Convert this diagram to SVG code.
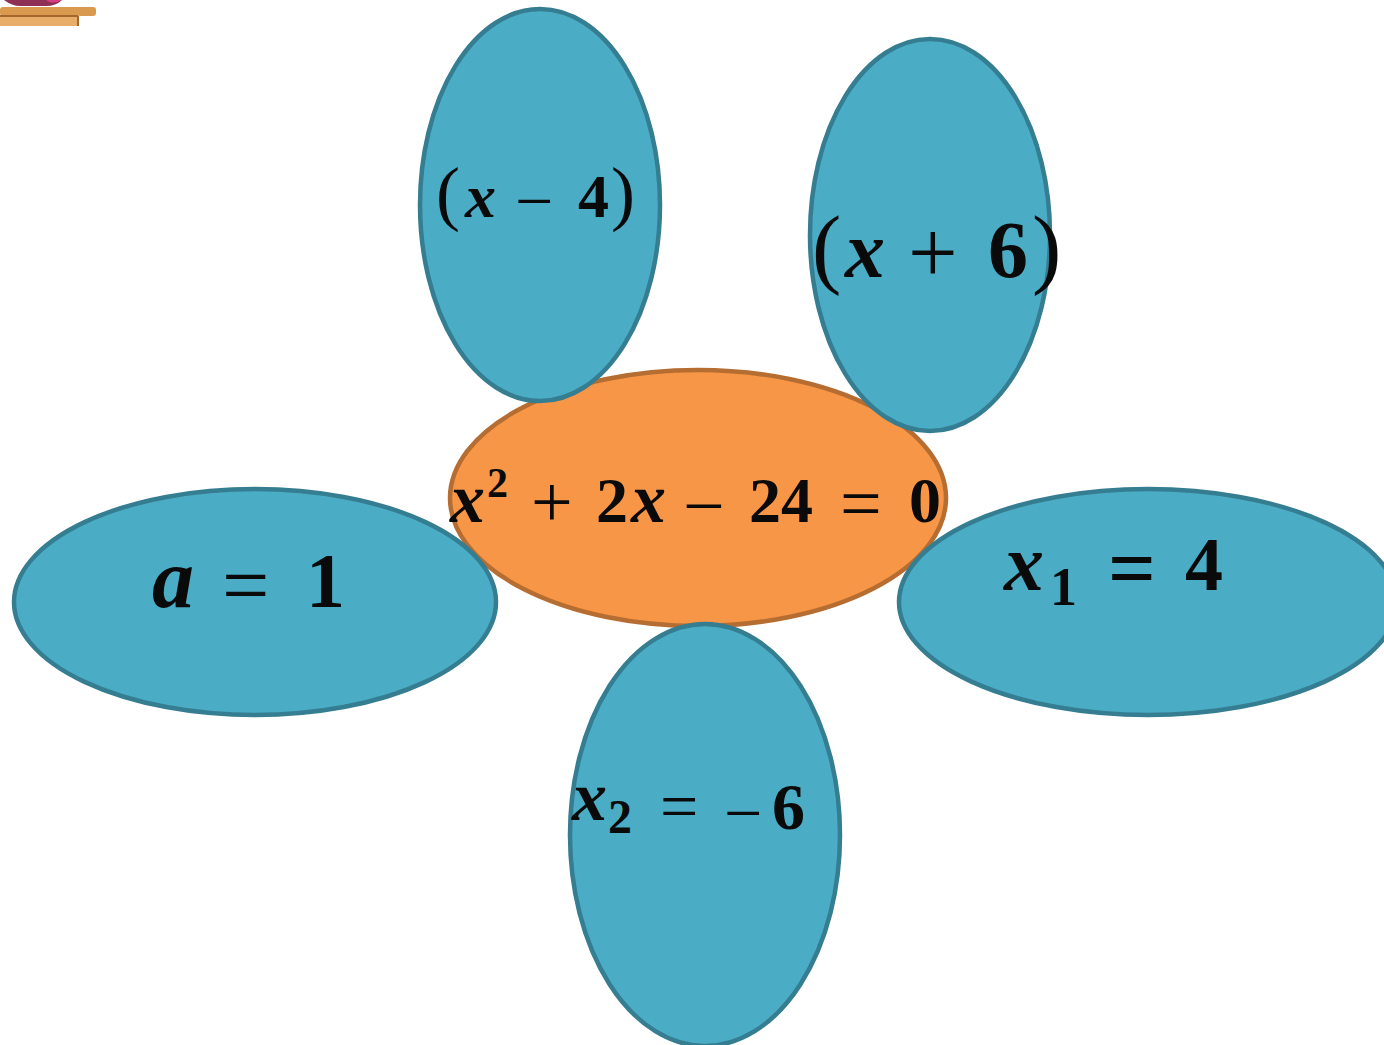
<svg xmlns="http://www.w3.org/2000/svg" width="1384" height="1045" viewBox="0 0 1384 1045">
<style>
.b{fill:#4bacc6;stroke:#357d91;stroke-width:4.5}
.o{fill:#f79646;stroke:#b66d31;stroke-width:4.5}
text{font-family:"Liberation Serif","DejaVu Serif",serif;font-weight:bold;fill:#0a0a0a}
.i{font-style:italic}
.p{font-weight:normal}
</style>
<rect width="1384" height="1045" fill="#fff"/>
<g id="decor"><path d="M4 0Q12 6 20 6H46Q56 6 62 0Z" fill="#8e2f55"/><path d="M46 0Q52 5 62 0Z" fill="#d63c80"/><rect x="0" y="7" width="96" height="9" rx="3" fill="#d99a50"/><rect x="0" y="15" width="79" height="11" fill="#e8ad68"/><rect x="0" y="15" width="78" height="2" fill="#a5662c"/><rect x="77" y="16" width="2" height="10" fill="#a5662c"/></g>
<g id="connectors"></g>
<g id="n-center"><ellipse class="o" cx="698" cy="498" rx="248" ry="128"/><text y="522" font-size="64"><tspan class="i" x="450" font-size="70">x</tspan><tspan x="487" y="497" font-size="42">2</tspan><tspan class="p" x="531" y="527" font-size="74">+</tspan><tspan x="596" y="522" font-size="64">2</tspan><tspan class="i" x="631" font-size="70">x</tspan><tspan class="p" x="683" y="531" font-size="74">−</tspan><tspan x="749" y="522" font-size="64">24</tspan><tspan class="p" x="840" y="528" font-size="74">=</tspan><tspan x="909" y="522" font-size="64">0</tspan></text></g>
<g id="n-top-left"><ellipse class="b" cx="540" cy="205" rx="120" ry="196"/><text y="217" font-size="60"><tspan class="p" x="436" font-size="72">(</tspan><tspan class="i" x="465" font-size="62">x</tspan><tspan class="p" x="515" y="224" font-size="68">−</tspan><tspan x="578" y="217" font-size="62">4</tspan><tspan class="p" x="611" font-size="72">)</tspan></text></g>
<g id="n-top-right"><ellipse class="b" cx="930" cy="235" rx="120" ry="196"/><text y="277" font-size="80"><tspan class="p" x="812" font-size="88">(</tspan><tspan class="i" x="845" font-size="80">x</tspan><tspan class="p" x="908" y="282" font-size="88">+</tspan><tspan x="988" y="277" font-size="80">6</tspan><tspan class="p" x="1032" font-size="88">)</tspan></text></g>
<g id="n-left"><ellipse class="b" cx="255" cy="602" rx="241" ry="113"/><text y="607" font-size="78"><tspan class="i" x="152" font-size="84">a</tspan><tspan class="p" x="222" y="614" font-size="84">=</tspan><tspan x="306" y="607" font-size="78">1</tspan></text></g>
<g id="n-right"><ellipse class="b" cx="1148" cy="602" rx="249" ry="113"/><text y="590" font-size="76"><tspan class="i" x="1004" font-size="80">x</tspan><tspan x="1050" y="605" font-size="54">1</tspan><tspan x="1108" y="597" font-size="84">=</tspan><tspan x="1185" y="590" font-size="76">4</tspan></text></g>
<g id="n-bottom"><ellipse class="b" cx="705" cy="835" rx="135" ry="211"/><text y="820" font-size="62"><tspan class="i" x="572" font-size="70">x</tspan><tspan x="608" y="833" font-size="48">2</tspan><tspan class="p" x="660" y="829" font-size="68">=</tspan><tspan class="p" x="724" y="836" font-size="68">−</tspan><tspan x="772" y="829" font-size="66">6</tspan></text></g>
</svg>
